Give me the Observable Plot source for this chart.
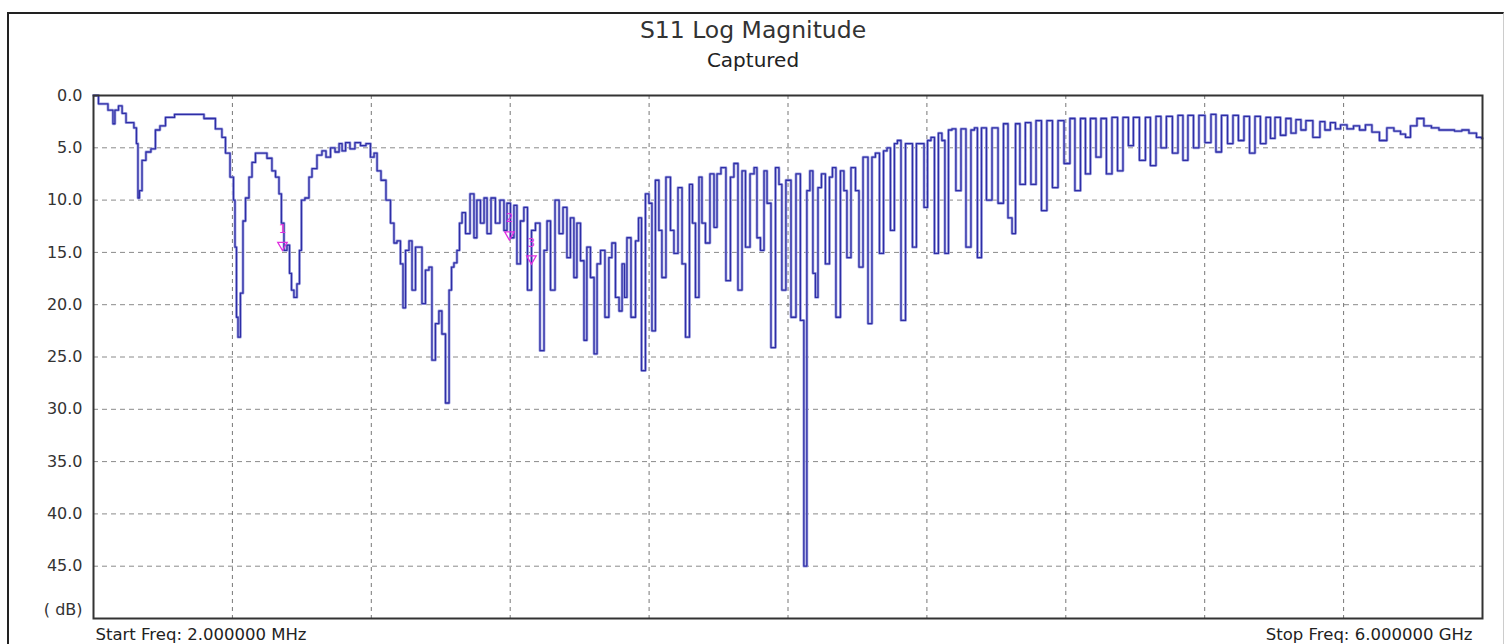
<!DOCTYPE html>
<html><head><meta charset="utf-8">
<script src="https://cdn.jsdelivr.net/npm/d3@7"></script>
<script src="https://cdn.jsdelivr.net/npm/@observablehq/plot@0.6"></script>
<style>
html,body{margin:0;padding:0;background:#fff;overflow:hidden}
#wrap{position:relative;width:1507px;height:644px}
#border{position:absolute;left:7px;top:12px;width:1494px;height:640px;border-left:2px solid #222;border-top:2px solid #222;border-right:1px solid #ccc;pointer-events:none}
</style></head><body><div id="wrap"><div id="border"></div></div>
<script>
// S11 trace, [frequency MHz, return loss dB]
const lowBand = [[2,0.0],[45,0.8],[84,1.4],[88,2.7],[101,1.4],[119,1.0],[132,1.7],[153,2.6],[170,2.6],[183,3.1],[192,4.6],[196,9.8],[205,9.1],[218,6.2],[239,5.4],[261,5.1],[278,3.3],[300,2.9],[326,2.1],[378,1.8],[451,1.8],[507,2.2],[550,3.2],[563,4.0],[581,5.5],[602,7.8],[611,10.0],[615,14.5],[624,21.2],[628,23.1],[645,18.9],[650,12.0],[667,9.8],[680,7.8],[693,6.4],[710,5.5],[736,5.5],[766,6.0],[779,7.2],[797,7.8],[809,9.4],[818,12.2],[831,14.8],[844,14.3],[853,17.0],[861,18.6],[874,19.3],[887,18.0],[896,14.8],[904,10.0],[926,9.8],[939,7.8],[952,7.0],[982,5.7],[995,5.3],[1017,5.9],[1034,5.0],[1056,5.4],[1069,4.6],[1082,5.3],[1099,4.5],[1120,5.1],[1142,4.5],[1168,4.8],[1189,4.6],[1207,5.9],[1220,5.5],[1233,7.2],[1254,8.1],[1276,10.0],[1293,12.2],[1306,14.1],[1319,13.9],[1336,16.1],[1341,20.3],[1358,14.8],[1371,13.9],[1384,18.6],[1401,14.5],[1414,14.5],[1427,19.9],[1444,16.7],[1457,16.4],[1470,25.3],[1487,21.8],[1500,20.6],[1513,22.8],[1531,29.4],[1544,18.6],[1552,16.4],[1565,16.0],[1578,14.8],[1587,12.2],[1600,11.2]];
const midBand = [[1617,13.2],[1639,9.4],[1651,13.6],[1664,10.0],[1682,12.2],[1695,9.8],[1708,13.2],[1729,9.8],[1746,12.2],[1768,10.0],[1781,12.9],[1794,10.3],[1811,13.6],[1824,10.5],[1837,16.1],[1854,12.0],[1867,10.7],[1885,18.6],[1902,12.9],[1919,12.2],[1941,24.4],[1954,14.8],[1967,12.0],[1984,18.6],[2006,10.0],[2019,13.2],[2040,10.7],[2053,15.5],[2070,11.7],[2083,17.4],[2096,12.2],[2114,15.8],[2126,23.4],[2139,14.5],[2157,17.4],[2170,24.7],[2183,16.1],[2200,14.8],[2221,21.2],[2234,15.5],[2247,14.1],[2265,19.3],[2278,20.6],[2291,16.1],[2299,19.3],[2312,13.6],[2334,21.2],[2351,13.9],[2360,11.7],[2377,26.3],[2394,9.4],[2407,10.3],[2420,22.5],[2437,8.1],[2450,12.9],[2463,17.4],[2485,7.8],[2502,12.9],[2515,15.1],[2537,8.8],[2550,16.1],[2567,23.1],[2584,8.5],[2593,12.2],[2610,19.3],[2623,7.8],[2636,12.2],[2653,14.1],[2675,7.5],[2688,12.6],[2701,7.5],[2722,6.9],[2744,17.7],[2761,7.8],[2774,6.5],[2796,18.6],[2809,7.2],[2826,14.5],[2848,7.5],[2861,6.9],[2873,13.6],[2891,14.8],[2904,7.2],[2917,10.3],[2938,24.1],[2956,6.9],[2968,8.5],[2981,18.6],[3003,8.1],[3025,21.2],[3046,7.5],[3063,21.5],[3076,45.0],[3089,9.1]];
const highBand = [[3102,7.2],[3115,17.0],[3124,19.3],[3137,8.8],[3154,7.5],[3171,16.1],[3189,7.8],[3197,6.9],[3219,21.2],[3236,7.2],[3249,9.1],[3262,15.5],[3284,6.9],[3301,9.1],[3314,16.4],[3336,5.9],[3357,21.8],[3370,5.9],[3387,5.5],[3405,15.1],[3422,5.3],[3435,5.0],[3452,12.9],[3469,4.6],[3478,4.3],[3500,21.5],[3517,4.6],[3530,4.6],[3547,14.5],[3564,4.6],[3582,4.6],[3595,10.7],[3612,4.3],[3625,4.0],[3642,15.1],[3659,3.6],[3672,4.3],[3685,15.1],[3703,3.3],[3715,3.2],[3737,9.1],[3759,3.2],[3780,14.5],[3802,3.3],[3810,3.1],[3828,15.5],[3845,3.1],[3871,10.0],[3893,3.1],[3923,10.3],[3940,2.7],[3962,11.7],[3975,13.2],[3992,2.7],[4013,8.5],[4039,2.6],[4061,8.5],[4083,2.4],[4108,11.0],[4130,2.4],[4156,8.8],[4178,2.4],[4208,6.5],[4229,2.2],[4251,9.1],[4277,2.2],[4294,7.5],[4320,2.2],[4342,5.9],[4363,2.2],[4389,7.5],[4411,2.1],[4437,7.2],[4458,2.1],[4484,4.8],[4501,2.1],[4536,6.2],[4553,2.1],[4579,6.7],[4601,2.0],[4622,5.0],[4648,2.0],[4674,5.5],[4696,1.9],[4717,6.2],[4739,1.9],[4765,5.0],[4786,1.9],[4817,4.5],[4838,1.8],[4860,5.4],[4886,1.9],[4912,4.6],[4933,1.9],[4959,4.3],[4981,2.0],[5007,5.5],[5028,2.0],[5054,4.6],[5076,2.1],[5093,4.1],[5115,2.1],[5140,3.8],[5162,2.2],[5184,3.6],[5205,2.3],[5227,3.3],[5248,2.4],[5287,4.0],[5309,2.5],[5330,3.3],[5356,2.6],[5374,3.2],[5400,2.8],[5430,3.2],[5456,2.9],[5482,3.3],[5507,2.8],[5538,3.5],[5572,4.3],[5602,3.1],[5633,3.4],[5659,3.7],[5676,4.0],[5702,2.9],[5732,2.2],[5762,2.9],[5797,3.1],[5827,3.3],[5862,3.3],[5896,3.4],[5926,3.3],[5957,3.6],[5991,4.0],[6000,4.1]];

const markerLabels = ["1","2","3"];
const markerFreq = [818, 1798, 1893];
const markerDb = [14.3, 13.3, 15.6];

const yTicks = [0,5,10,15,20,25,30,35,40,45];
const yGrid = [5,10,15,20,25,30,35,40,45];
const xGrid = [601.8,1201.6,1801.4,2401.2,3001,3600.8,4200.6,4800.4,5400.2];

const titleText = "S11 Log Magnitude";
const subtitleText = "Captured";
const startLabel = "Start Freq: 2.000000 MHz";
const stopLabel = "Stop Freq: 6.000000 GHz";
const unitLabel = "( dB)";

const trace = [...lowBand, ...midBand, ...highBand].map(([f, db]) => ({f, db}));
const markers = markerLabels.map((t, i) => ({t, f: markerFreq[i], db: markerDb[i]}));

const chart = Plot.plot({
  width: 1507, height: 644,
  marginTop: 95, marginLeft: 93, marginRight: 25, marginBottom: 26,
  style: {fontFamily: "'DejaVu Sans', sans-serif", fontSize: "16px", color: "#333", background: "transparent", overflow: "visible"},
  x: {domain: [2, 6000], axis: null},
  y: {domain: [0, 50], reverse: true, axis: null},
  marks: [
    Plot.ruleY(yGrid, {stroke: "#8a8a8a", strokeDasharray: "5,4", strokeWidth: 1}),
    Plot.ruleX(xGrid, {stroke: "#777", strokeDasharray: "4,4", strokeWidth: 1}),
    Plot.line(trace, {x: "f", y: "db", curve: "step", stroke: "#a4a6e2", strokeWidth: 2.8}),
    Plot.line(trace, {x: "f", y: "db", curve: "step", stroke: "#2e2ea6", strokeWidth: 1.3}),
    Plot.dot(markers, {x: "f", y: "db", symbol: "triangle", rotate: 180, r: 3.5, stroke: "#e030e0", fill: "none", strokeWidth: 1.3}),
    Plot.text(markers, {x: "f", y: "db", text: "t", dy: -16, fill: "#e030e0", fontSize: 12}),
    Plot.frame({stroke: "#333", strokeWidth: 2}),
    Plot.axisY(yTicks, {label: null, tickSize: 0, tickPadding: 11, tickFormat: d => d.toFixed(1), fontSize: 16, fill: "#333"}),
    Plot.text([unitLabel], {frameAnchor: "bottom-left", lineAnchor: "middle", dx: -11, dy: -9, textAnchor: "end", fontSize: 16, fill: "#333"}),
    Plot.text([titleText], {frameAnchor: "top", lineAnchor: "middle", dx: -35, dy: -65, fontSize: 23.5, fill: "#333"}),
    Plot.text([subtitleText], {frameAnchor: "top", lineAnchor: "middle", dx: -35, dy: -35, fontSize: 20, fill: "#222"}),
    Plot.text([startLabel], {frameAnchor: "bottom-left", lineAnchor: "middle", dx: 2, dy: 16, textAnchor: "start", fontSize: 16.5, fill: "#222"}),
    Plot.text([stopLabel], {frameAnchor: "bottom-right", lineAnchor: "middle", dx: -10, dy: 16, textAnchor: "end", fontSize: 16.5, fill: "#222"})
  ]
});
chart.style.position = "absolute";
chart.style.left = "0px";
chart.style.top = "0px";
document.getElementById("wrap").appendChild(chart);
</script>
</body></html>
